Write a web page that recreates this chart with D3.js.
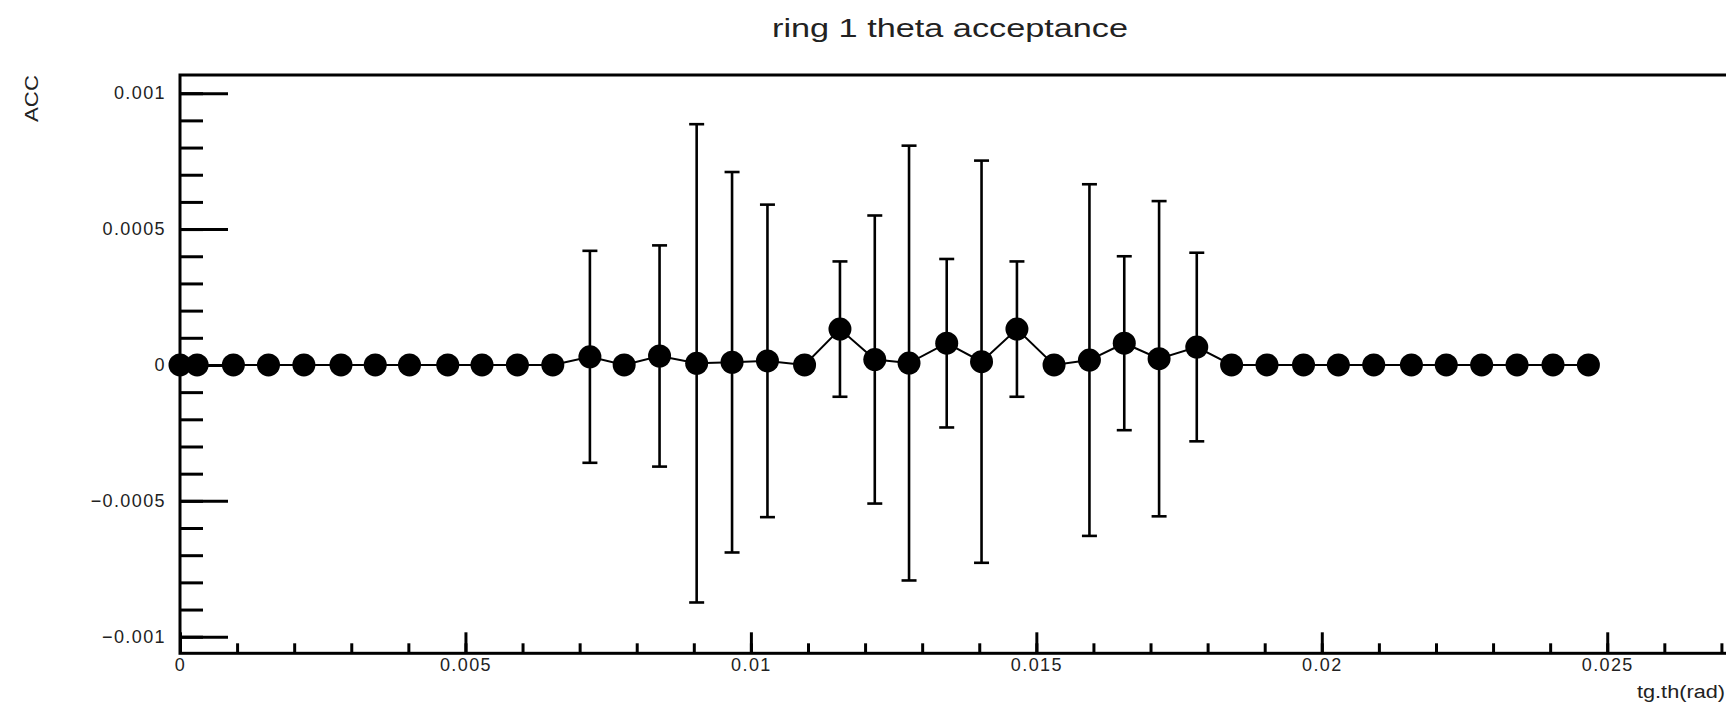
<!DOCTYPE html>
<html>
<head>
<meta charset="utf-8">
<script src="https://cdn.jsdelivr.net/npm/d3@7"></script>
<style>
  body { margin: 0; background: #fff; }
  svg { display: block; }
  text { font-family: "Liberation Sans", Arial, Helvetica, sans-serif; fill: #222; }
</style>
</head>
<body>
<script>
// acceptance vs tg(theta), ring 1
var xValues = [0, 0.0003, 0.000935, 0.00155, 0.00217, 0.00282, 0.00342, 0.00402, 0.00469, 0.00529,
    0.00591, 0.00653, 0.00718, 0.00778, 0.0084, 0.00905, 0.00967, 0.01029, 0.01094, 0.01156,
    0.01217, 0.01277, 0.01343, 0.01404, 0.01466, 0.01531, 0.01593, 0.01654, 0.01715, 0.01781,
    0.01842, 0.01904, 0.01968, 0.02029, 0.02091, 0.02157, 0.02218, 0.0228, 0.02342, 0.02405, 0.02467];
var accValues = [0, 0, 0, 0, 0, 0, 0, 0, 0, 0,
    0, 0, 0.00003, 0, 0.000033, 0.000006, 0.00001, 0.000015, 0, 0.000132,
    0.00002, 0.000007, 0.00008, 0.000012, 0.000132, 0, 0.000018, 0.00008, 0.000023, 0.000066,
    0, 0, 0, 0, 0, 0, 0, 0, 0, 0, 0];
var accErrors = [0, 0, 0, 0, 0, 0, 0, 0, 0, 0,
    0, 0, 0.00039, 0, 0.000407, 0.00088, 0.0007, 0.000575, 0, 0.000249,
    0.00053, 0.0008, 0.00031, 0.00074, 0.000249, 0, 0.000647, 0.00032, 0.00058, 0.000347,
    0, 0, 0, 0, 0, 0, 0, 0, 0, 0, 0];

var xMajorTicks = [0, 0.005, 0.01, 0.015, 0.02, 0.025];
var xTickLabels = ["0", "0.005", "0.01", "0.015", "0.02", "0.025"];
var yMajorTicks = [-0.001, -0.0005, 0, 0.0005, 0.001];
var yTickLabels = ["\u22120.001", "\u22120.0005", "0", "0.0005", "0.001"];

var titleText = "ring 1 theta acceptance";
var xTitle = "tg.th(rad)";
var yTitle = "ACC";

var points = xValues.map(function(x, i) {
    return {x: x, y: accValues[i], e: accErrors[i]};
});

var W = 1726, H = 710;
var padL = 180, padR = 1745, padT = 75, padB = 653.3;

var x = d3.scaleLinear().domain([0, 0.027413]).range([padL, padR]);
var y = d3.scaleLinear().domain([-0.001061, 0.001067]).range([padB, padT]);

var svg = d3.select("body").append("svg")
    .attr("width", W)
    .attr("height", H);

// frame
svg.append("rect")
    .attr("x", padL).attr("y", padT)
    .attr("width", padR - padL).attr("height", padB - padT)
    .attr("fill", "none")
    .attr("stroke", "#000")
    .attr("stroke-width", 3);

// y axis: major + minor ticks pointing into the frame
var yMinor = d3.range(-10, 11).map(function(k){ return k * 0.0001; });
svg.append("g")
    .attr("transform", "translate(" + padL + ",0)")
    .call(d3.axisLeft(y).tickValues(yMinor).tickSizeInner(-23).tickSizeOuter(0).tickFormat(""))
    .call(function(g){ g.select(".domain").remove(); });

var yAxis = svg.append("g")
    .attr("transform", "translate(" + padL + ",0)")
    .call(d3.axisLeft(y).tickValues(yMajorTicks).tickSizeInner(-48).tickSizeOuter(0).tickPadding(14)
        .tickFormat(function(d, i){ return yTickLabels[i]; }));
yAxis.select(".domain").remove();

// x axis
var xMinor = d3.range(0, 28).map(function(k){ return k * 0.001; });
svg.append("g")
    .attr("transform", "translate(0," + padB + ")")
    .call(d3.axisBottom(x).tickValues(xMinor).tickSizeInner(-10).tickSizeOuter(0).tickFormat(""))
    .call(function(g){ g.select(".domain").remove(); });

var xAxis = svg.append("g")
    .attr("transform", "translate(0," + padB + ")")
    .call(d3.axisBottom(x).tickValues(xMajorTicks).tickSizeInner(-21).tickSizeOuter(0).tickPadding(5)
        .tickFormat(function(d, i){ return xTickLabels[i]; }));
xAxis.select(".domain").remove();

svg.selectAll(".tick line").attr("stroke", "#000").attr("stroke-width", 3);
svg.selectAll(".tick text")
    .style("font-size", "18px")
    .style("letter-spacing", "1.4px")
    .attr("fill", "#222");

// connecting line
svg.append("path")
    .datum(points)
    .attr("fill", "none")
    .attr("stroke", "#000")
    .attr("stroke-width", 2)
    .attr("d", d3.line().x(function(d){ return x(d.x); }).y(function(d){ return y(d.y); }));

// error bars
var bars = svg.selectAll("g.err")
    .data(points.filter(function(d){ return d.e > 0; }))
    .enter().append("g")
    .attr("class", "err")
    .attr("stroke", "#000")
    .attr("stroke-width", 2.6);

bars.append("line")
    .attr("x1", function(d){ return x(d.x); })
    .attr("x2", function(d){ return x(d.x); })
    .attr("y1", function(d){ return y(d.y + d.e); })
    .attr("y2", function(d){ return y(d.y - d.e); });

bars.selectAll("line.cap")
    .data(function(d){ return [d.y + d.e, d.y - d.e].map(function(v){ return {x: d.x, v: v}; }); })
    .enter().append("line")
    .attr("class", "cap")
    .attr("x1", function(d){ return x(d.x) - 7.5; })
    .attr("x2", function(d){ return x(d.x) + 7.5; })
    .attr("y1", function(d){ return y(d.v); })
    .attr("y2", function(d){ return y(d.v); });

// markers
svg.selectAll("circle.pt")
    .data(points)
    .enter().append("circle")
    .attr("class", "pt")
    .attr("cx", function(d){ return x(d.x); })
    .attr("cy", function(d){ return y(d.y); })
    .attr("r", 11.5)
    .attr("fill", "#000");

// titles
svg.append("text")
    .attr("x", 950).attr("y", 37)
    .attr("text-anchor", "middle")
    .attr("textLength", 356)
    .attr("lengthAdjust", "spacingAndGlyphs")
    .style("font-size", "26px")
    .text(titleText);

svg.append("text")
    .attr("transform", "translate(38,122) rotate(-90)")
    .attr("textLength", 47)
    .attr("lengthAdjust", "spacingAndGlyphs")
    .style("font-size", "18px")
    .text(yTitle);

svg.append("text")
    .attr("x", 1637).attr("y", 698)
    .attr("textLength", 88)
    .attr("lengthAdjust", "spacingAndGlyphs")
    .style("font-size", "18px")
    .text(xTitle);
</script>
</body>
</html>
